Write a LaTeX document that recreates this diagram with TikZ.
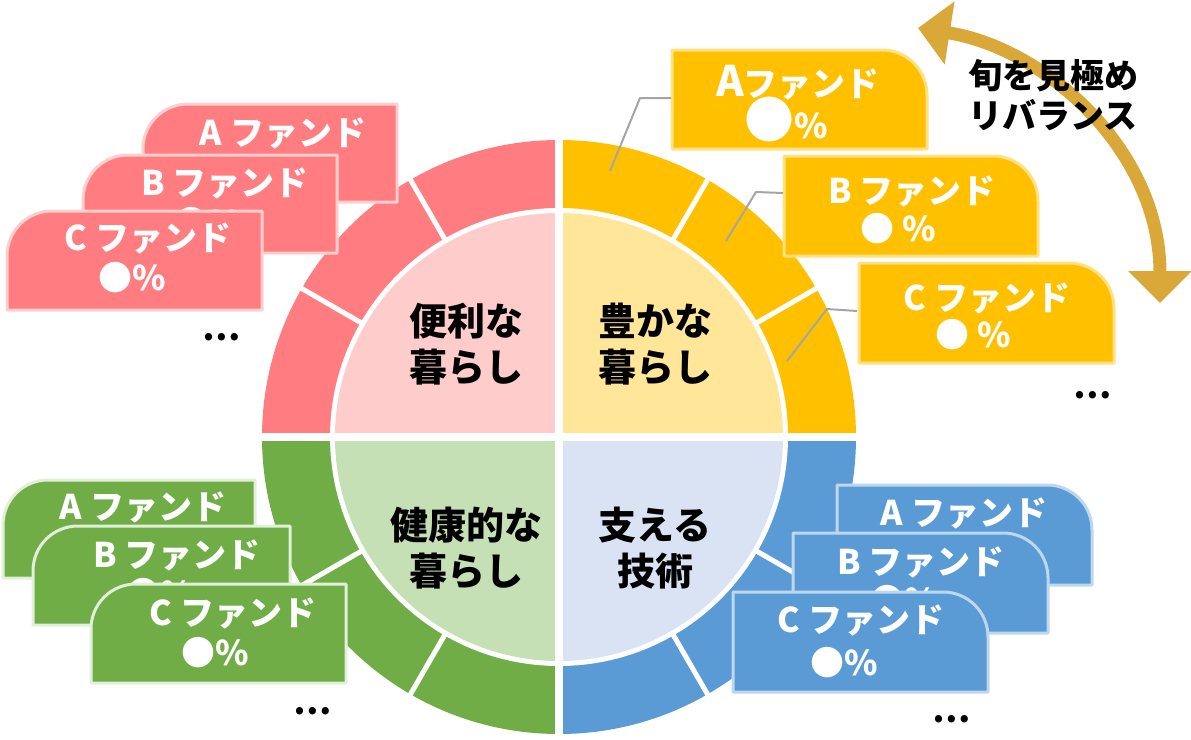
\documentclass[tikz,border=0pt]{standalone}
\usepackage{fontspec}
\setmainfont{Noto Sans CJK JP}
\usetikzlibrary{arrows.meta}

\definecolor{pinkD}{HTML}{FF7C80}
\definecolor{pinkL}{HTML}{FFCCCC}
\definecolor{pinkE}{HTML}{FFCFCF}
\definecolor{yelD}{HTML}{FFC000}
\definecolor{yelL}{HTML}{FFE699}
\definecolor{yelE}{HTML}{FFE083}
\definecolor{grnD}{HTML}{70AD47}
\definecolor{grnL}{HTML}{C5E0B4}
\definecolor{grnE}{HTML}{E2EFDA}
\definecolor{bluD}{HTML}{5B9BD5}
\definecolor{bluL}{HTML}{DAE3F3}
\definecolor{bluE}{HTML}{BDD7EE}
\definecolor{leadgray}{HTML}{A5A5A5}
\definecolor{gold}{HTML}{DAA838}

% box with rounded top-left / top-right corner: {style}{x1}{y1}{x2}{y2}
\newcommand{\fundboxL}[5]{\draw[#1] (#2,#5) -- (#2,#3+45) .. controls (#2,#3+20) and (#2+20,#3) .. (#2+45,#3) -- (#4,#3) -- (#4,#5) -- cycle;}
\newcommand{\fundboxR}[5]{\draw[#1] (#2,#5) -- (#2,#3) -- (#4-45,#3) .. controls (#4-20,#3) and (#4,#3+20) .. (#4,#3+45) -- (#4,#5) -- cycle;}

\tikzset{
  pinkbox/.style={fill=pinkD, draw=pinkE, line width=3pt},
  yelbox/.style={fill=yelD, draw=yelE, line width=3pt},
  grnbox/.style={fill=grnD, draw=grnE, line width=3pt},
  blubox/.style={fill=bluD, draw=bluE, line width=3pt},
  fundtxt/.style={text=white, inner sep=0pt, font=\bfseries\fontsize{34}{40}\selectfont},
  qlabel/.style={align=center, inner sep=0pt, font=\bfseries\fontsize{38}{46}\selectfont},
  etc/.style={inner sep=0pt, font=\bfseries\fontsize{34}{34}\selectfont},
  leader/.style={draw=leadgray, line width=2pt},
  rebal/.style={draw=gold, line width=13pt, {Triangle[width=62pt,length=32pt]}-{Triangle[width=62pt,length=32pt]}},
}

\begin{document}
\begin{tikzpicture}[x=1pt, y=-1pt, line join=round]
\useasboundingbox (0,0) rectangle (1191,739);
\coordinate (c) at (559,437);

% circle
\foreach \sx/\sy/\cd/\cl in {-1/-1/pinkD/pinkL, 1/-1/yelD/yelL, -1/1/grnD/grnL, 1/1/bluD/bluL}{
  \begin{scope}
    \clip (c) rectangle ++(\sx*310,\sy*310);
    \fill[\cd] (c) circle[radius=297];
    \fill[white] (c) circle[radius=229];
    \fill[\cl] (c) circle[radius=224];
  \end{scope}
}
\foreach \a in {30,60,120,150,210,240,300,330}
  \draw[white, line width=5pt] (c) ++(\a:226) -- ++(\a:75);
\draw[white, line width=8pt] ([xshift=-300pt]c) -- ([xshift=300pt]c);
\draw[white, line width=8pt] ([yshift=-300pt]c) -- ([yshift=300pt]c);

\node[qlabel] (benri) at (466,344) {便利な\\暮らし};
\node[qlabel] (yutaka) at (655,344) {豊かな\\暮らし};
\node[qlabel] (kenko) at (466,548) {健康的な\\暮らし};
\node[qlabel] (sasaeru) at (655,548) {支える\\技術};

% rebalance arrow
\draw[rebal] (918,28) .. controls (1045,48) and (1160,150) .. (1160,303);
\node[qlabel, font=\bfseries\fontsize{34}{40}\selectfont] (shun) at (1053,95) {旬を見極め\\リバランス};

% yellow
\fundboxR{yelbox}{672}{50}{927}{149}
\node[fundtxt] (ya1) at (798,83) {{\fontsize{42}{42}\selectfont A}ファンド};
\node[fundtxt] (ya2) at (786,119) {{\fontsize{50}{50}\selectfont ●}\%};
\fundboxR{yelbox}{784}{156}{1038}{256}
\node[fundtxt] (yb1) at (912,191) {B ファンド};
\node[fundtxt] (yb2) at (898,229) {● \%};
\fundboxR{yelbox}{859}{263}{1114}{363}
\node[fundtxt] (yc1) at (987,298) {C ファンド};
\node[fundtxt] (yc2) at (973,335) {● \%};
\node[etc] (ydots) at (1093,395) {…};

\coordinate (yaL) at (671,98);  \coordinate (yaR) at (610,171);
\coordinate (ybL) at (783,193); \coordinate (ybR) at (726,241);
\coordinate (ycL) at (857,311); \coordinate (ycR) at (787,361);
\draw[leader] (yaL) -- ++(-31,0) -- (yaR);
\draw[leader] (ybL) -- ++(-27,-1) -- (ybR);
\draw[leader] (ycL) -- ++(-30,-2) -- (ycR);

% pink
\fundboxL{pinkbox}{143}{104}{397}{202}
\node[fundtxt] (pa1) at (283,133) {A ファンド};
\node[fundtxt] (pa2) at (268,173) {●\%};
\fundboxL{pinkbox}{83}{155}{337}{253}
\node[fundtxt] (pb1) at (225,183) {B ファンド};
\node[fundtxt] (pb2) at (208,223) {●\%};
\fundboxL{pinkbox}{7}{211}{262}{310}
\node[fundtxt] (pc1) at (148,238) {C ファンド};
\node[fundtxt] (pc2) at (132,278) {●\%};
\node[etc] (pdots) at (222,337) {…};

% green
\fundboxL{grnbox}{3}{480}{255}{578}
\node[fundtxt] (ga1) at (143,507) {A ファンド};
\node[fundtxt] (ga2) at (126,547) {●\%};
\fundboxL{grnbox}{33}{526}{290}{625}
\node[fundtxt] (gb1) at (177,555) {B ファンド};
\node[fundtxt] (gb2) at (160,594) {●\%};
\fundboxL{grnbox}{91}{584}{346}{683}
\node[fundtxt] (gc1) at (233,613) {C ファンド};
\node[fundtxt] (gc2) at (215,653) {●\%};
\node[etc] (gdots) at (313,711) {…};

% blue
\fundboxR{blubox}{837}{485}{1092}{585}
\node[fundtxt] (ba1) at (964,513) {A ファンド};
\node[fundtxt] (ba2) at (948,556) {●\%};
\fundboxR{blubox}{793}{533}{1048}{633}
\node[fundtxt] (bb1) at (921,562) {B ファンド};
\node[fundtxt] (bb2) at (904,601) {●\%};
\fundboxR{blubox}{733}{592}{988}{692}
\node[fundtxt] (bc1) at (861,620) {C ファンド};
\node[fundtxt] (bc2) at (844,663) {●\%};
\node[etc] (bdots) at (952,719) {…};
\end{tikzpicture}
\end{document}
